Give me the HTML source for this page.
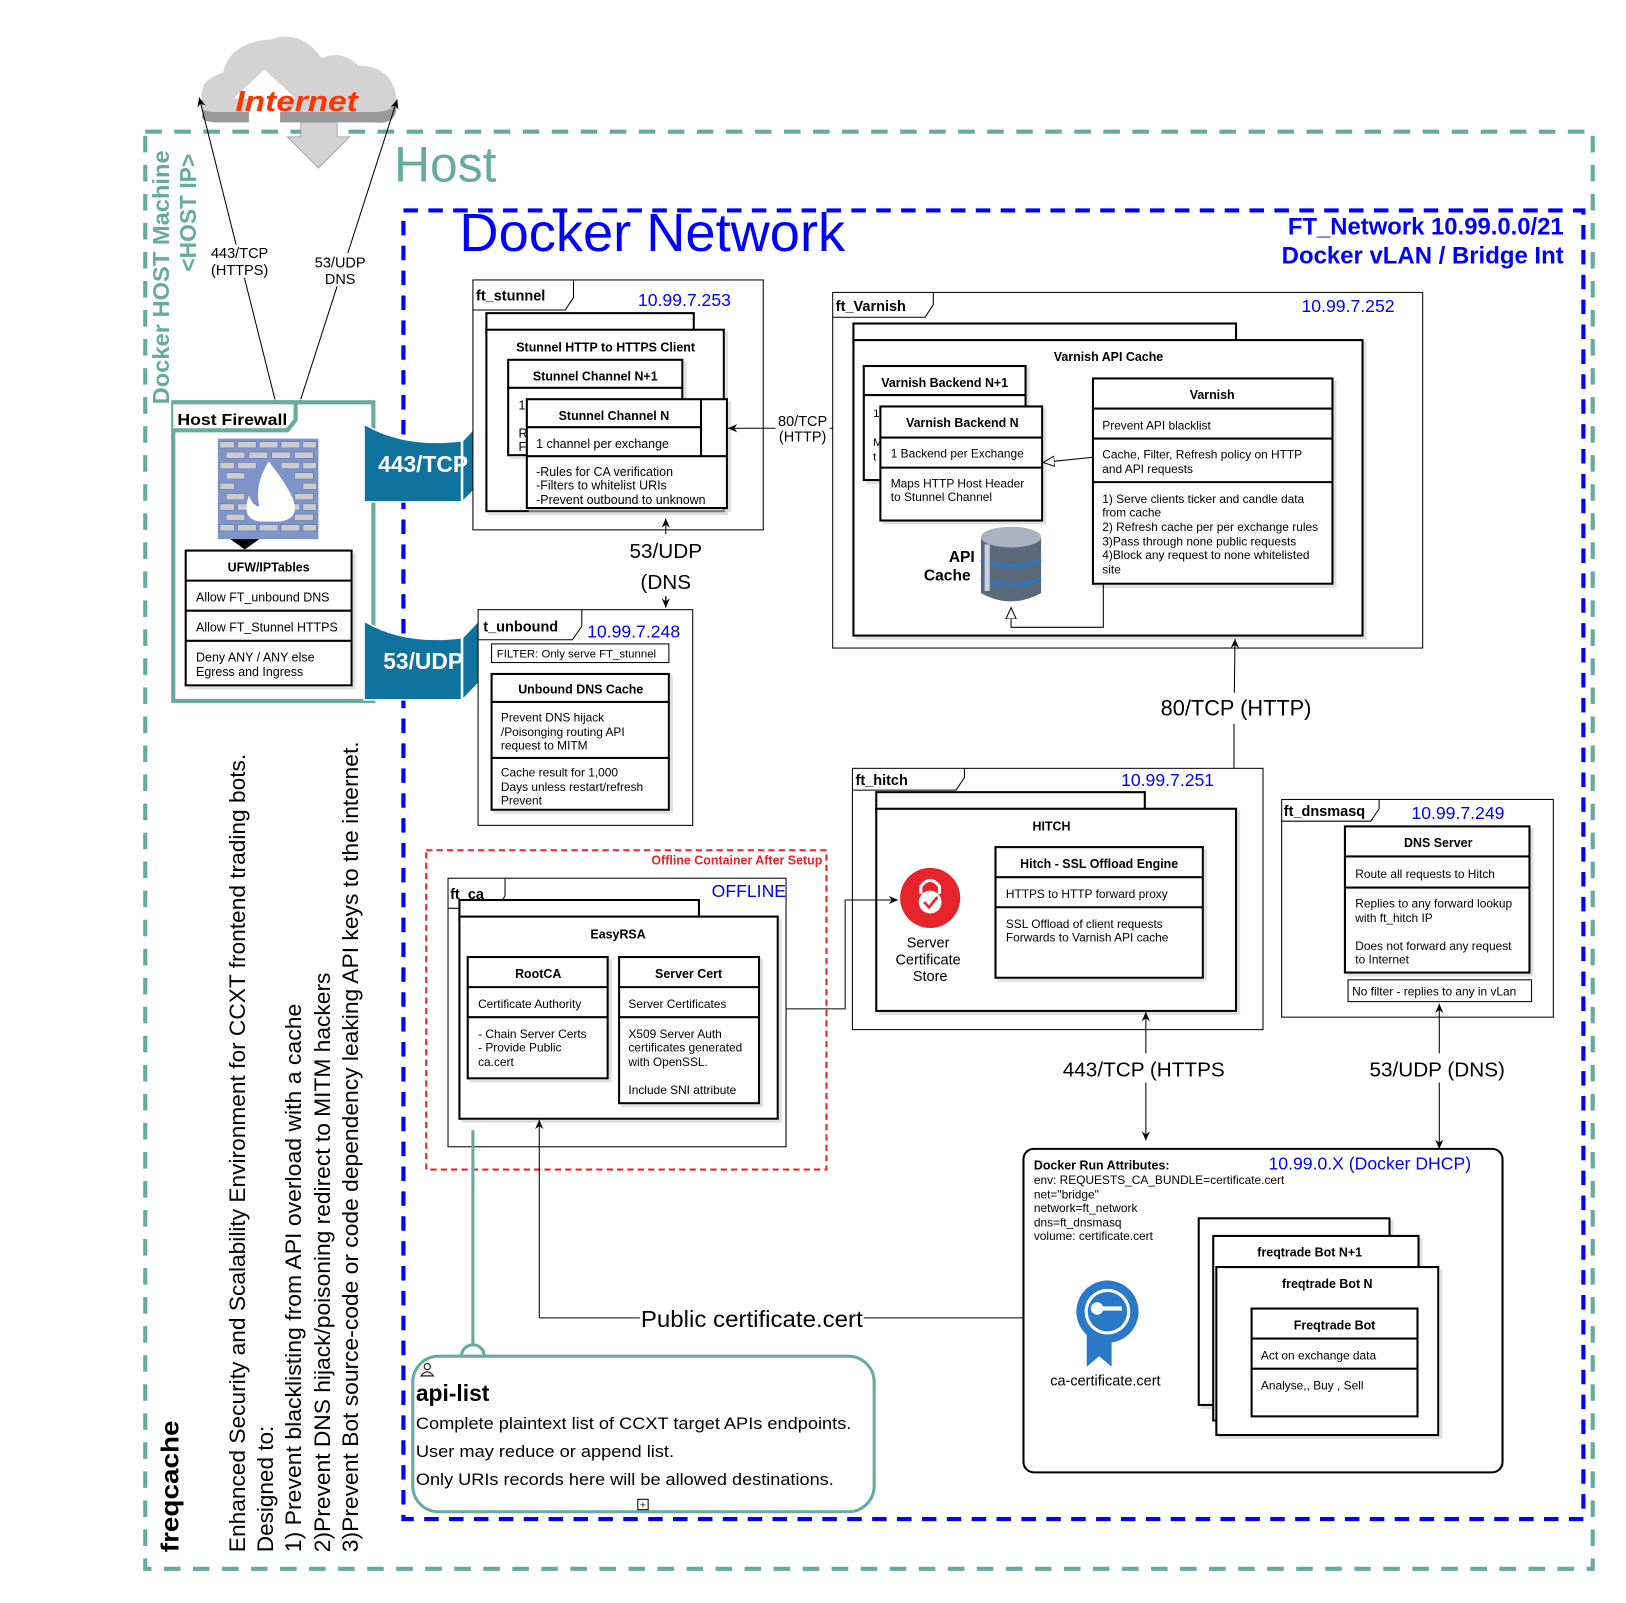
<!DOCTYPE html>
<html><head><meta charset="utf-8"><style>
html,body{margin:0;padding:0;background:#fff;}
svg{display:block;}
text{font-family:"Liberation Sans",sans-serif;}
</style></head><body>
<svg width="1626" height="1603" viewBox="0 0 1568 1546" xmlns="http://www.w3.org/2000/svg">
<defs>
<marker id="ar" markerWidth="10" markerHeight="10" refX="9" refY="5" orient="auto" markerUnits="userSpaceOnUse"><path d="M0,1 L9,5 L0,9 L3,5z" fill="#000"/></marker>
<marker id="ao" markerWidth="12" markerHeight="12" refX="11" refY="6" orient="auto" markerUnits="userSpaceOnUse"><path d="M0,1 L11,6 L0,11z" fill="#fff" stroke="#000"/></marker>
<filter id="sh" x="-5%" y="-5%" width="115%" height="115%"><feOffset dx="3" dy="3" in="SourceAlpha"/><feColorMatrix values="0 0 0 0 0.6 0 0 0 0 0.6 0 0 0 0 0.6 0 0 0 0.6 0"/><feMerge><feMergeNode/><feMergeNode in="SourceGraphic"/></feMerge></filter>
</defs>

<rect x="140" y="127" width="1396" height="1386" fill="none" stroke="#67AB9F" stroke-width="4" stroke-dasharray="16 12"/>
<text x="380" y="175" font-size="48" fill="#67AB9F">Host</text>
<text transform="translate(163,390) rotate(-90)" font-size="22" font-weight="bold" fill="#67AB9F" textLength="245" lengthAdjust="spacingAndGlyphs">Docker HOST Machine</text>
<text transform="translate(189,262) rotate(-90)" font-size="22" font-weight="bold" fill="#67AB9F">&lt;HOST IP&gt;</text>

<g>
<path d="M196,102 Q188,80 215,72 Q222,42 262,40 Q290,30 310,58 Q330,50 345,65 Q378,66 382,95 Q384,115 360,112 L210,112 Q190,112 196,102z" fill="#999" transform="translate(0,6)"/>
<path d="M196,100 Q188,78 215,70 Q222,40 262,38 Q290,28 310,56 Q330,48 345,63 Q378,64 382,93 Q384,108 360,108 L210,108 Q190,108 196,100z" fill="#d3d3d3"/>
<path d="M255,67 L285,95 L270,95 L270,118 L240,118 L240,95 L225,95z" fill="#fff"/>
<path d="M290,118 L325,118 L325,132 L337,132 L307,162 L277,132 L290,132z" fill="#d3d3d3" stroke="#aaa"/>
<text x="286" y="107" font-size="28" font-weight="bold" font-style="italic" fill="#ff3300" text-anchor="middle" textLength="118" lengthAdjust="spacingAndGlyphs">Internet</text>
</g>
<line x1="265" y1="385" x2="192" y2="94" stroke="#000" marker-start="url(#ar)" marker-end="url(#ar)"/>
<line x1="290" y1="385" x2="383" y2="96" stroke="#000" marker-start="url(#ar)" marker-end="url(#ar)"/>
<rect x="200" y="236" width="62" height="32" fill="#fff"/>
<text x="231" y="249" font-size="14" text-anchor="middle">443/TCP</text>
<text x="231" y="265" font-size="14" text-anchor="middle">(HTTPS)</text>
<rect x="300" y="244" width="56" height="32" fill="#fff"/>
<text x="328" y="258" font-size="14" text-anchor="middle">53/UDP</text>
<text x="328" y="274" font-size="14" text-anchor="middle">DNS</text>

<rect x="389" y="203" width="1138" height="1262" fill="none" stroke="#0000ff" stroke-width="4" stroke-dasharray="14 10"/>
<text x="443" y="242" font-size="52" fill="#0000ff" textLength="372" lengthAdjust="spacingAndGlyphs">Docker Network</text>
<text x="1508" y="226" font-size="23" font-weight="bold" fill="#0000ff" text-anchor="end" textLength="266" lengthAdjust="spacingAndGlyphs">FT_Network 10.99.0.0/21</text>
<text x="1508" y="254" font-size="23" font-weight="bold" fill="#0000ff" text-anchor="end" textLength="272" lengthAdjust="spacingAndGlyphs">Docker vLAN / Bridge Int</text>

<rect x="167" y="388" width="193" height="288" fill="#fff" stroke="#67AB9F" stroke-width="4"/>
<path d="M167,388 L285,388 L285,405 L277,415 L167,415" fill="#fff" stroke="#67AB9F" stroke-width="4"/>
<text x="171" y="410" font-size="15" font-weight="bold" textLength="106" lengthAdjust="spacingAndGlyphs">Host Firewall</text>
<g>
<rect x="210" y="423" width="97" height="97" fill="#7f94c8"/>
<g fill="#ccc" stroke="#5a6fa8" stroke-width="0.5">
<rect x="212" y="426" width="14" height="6"/><rect x="229" y="426" width="18" height="6"/><rect x="250" y="426" width="18" height="6"/><rect x="271" y="426" width="18" height="6"/><rect x="292" y="426" width="13" height="6"/>
<rect x="212" y="446" width="14" height="6"/><rect x="229" y="446" width="18" height="6"/><rect x="271" y="446" width="18" height="6"/><rect x="292" y="446" width="13" height="6"/>
<rect x="212" y="466" width="14" height="6"/><rect x="292" y="466" width="13" height="6"/>
<rect x="212" y="486" width="14" height="6"/><rect x="229" y="486" width="18" height="6"/><rect x="271" y="486" width="18" height="6"/><rect x="292" y="486" width="13" height="6"/>
<rect x="212" y="506" width="14" height="6"/><rect x="229" y="506" width="18" height="6"/><rect x="250" y="506" width="18" height="6"/><rect x="271" y="506" width="18" height="6"/><rect x="292" y="506" width="13" height="6"/>
<rect x="218" y="436" width="18" height="6"/><rect x="240" y="436" width="18" height="6"/><rect x="262" y="436" width="18" height="6"/><rect x="284" y="436" width="18" height="6"/>
<rect x="218" y="456" width="18" height="6"/><rect x="284" y="456" width="18" height="6"/>
<rect x="218" y="476" width="18" height="6"/><rect x="284" y="476" width="18" height="6"/>
<rect x="218" y="496" width="18" height="6"/><rect x="284" y="496" width="18" height="6"/>
</g>
<path d="M259,445 Q275,465 282,480 Q290,500 270,503 L250,503 Q232,500 240,478 Q245,490 250,488 Q245,468 259,445z" fill="#fff"/>
<path d="M222,520 L250,520 L236,530z" fill="#000"/>
</g>
<rect x="179" y="531" width="160" height="130" fill="#fff" stroke="#000" stroke-width="2" filter="url(#sh)"/>
<line x1="179" y1="560" x2="339" y2="560" stroke="#000" stroke-width="2"/>
<line x1="179" y1="589" x2="339" y2="589" stroke="#000" stroke-width="2"/>
<line x1="179" y1="618" x2="339" y2="618" stroke="#000" stroke-width="2"/>
<text x="259" y="551" font-size="12" font-weight="bold" text-anchor="middle">UFW/IPTables</text>
<text x="189" y="580" font-size="12">Allow FT_unbound DNS</text>
<text x="189" y="609" font-size="12">Allow FT_Stunnel HTTPS</text>
<text x="189" y="638" font-size="12">Deny ANY / ANY else</text>
<text x="189" y="652" font-size="12">Egress and Ingress</text>

<g>
<path d="M351,409 Q390,432 445,425 L445,484 L351,484z" fill="#10739E" stroke="#fff" stroke-width="1.5"/>
<path d="M446,425 L466,404 L466,464 L446,484z" fill="#10739E" stroke="#fff" stroke-width="1.5"/>
<text x="408" y="455" font-size="22" font-weight="bold" fill="#fff" text-anchor="middle">443/TCP</text>
<path d="M351,599 Q390,622 445,615 L445,675 L351,675z" fill="#10739E" stroke="#fff" stroke-width="1.5"/>
<path d="M446,615 L466,594 L466,654 L446,675z" fill="#10739E" stroke="#fff" stroke-width="1.5"/>
<text x="408" y="645" font-size="22" font-weight="bold" fill="#fff" text-anchor="middle">53/UDP</text>
</g>

<rect x="456" y="270" width="280" height="241" fill="#fff" stroke="#000"/>
<path d="M456,299 L545,299 L553,287 L553,270" fill="none" stroke="#000"/>
<text x="459" y="290" font-size="14" font-weight="bold">ft_stunnel</text>
<text x="660" y="295" font-size="17" fill="#0000ff" text-anchor="middle">10.99.7.253</text>
<rect x="469" y="302" width="200" height="20" fill="#fff" stroke="#000" stroke-width="2"/>
<rect x="469" y="318" width="229" height="175" fill="#fff" stroke="#000" stroke-width="2" filter="url(#sh)"/>
<text x="584" y="339" font-size="12" font-weight="bold" text-anchor="middle">Stunnel HTTP to HTTPS Client</text>
<rect x="490" y="347" width="168" height="92" fill="#fff" stroke="#000" stroke-width="2" filter="url(#sh)"/>
<line x1="490" y1="374" x2="658" y2="374" stroke="#000" stroke-width="2"/>
<text x="574" y="367" font-size="12" font-weight="bold" text-anchor="middle">Stunnel Channel N+1</text>
<text x="500" y="395" font-size="12">1</text>
<text x="500" y="422" font-size="12">R</text>
<text x="500" y="435" font-size="12">F</text>
<rect x="508" y="385" width="193" height="105" fill="#fff" stroke="#000" stroke-width="2" filter="url(#sh)"/>
<line x1="676" y1="385" x2="676" y2="440" stroke="#000" stroke-width="2"/>
<line x1="508" y1="412" x2="676" y2="412" stroke="#000" stroke-width="2"/>
<line x1="508" y1="440" x2="701" y2="440" stroke="#000" stroke-width="2"/>
<text x="592" y="405" font-size="12" font-weight="bold" text-anchor="middle">Stunnel Channel N</text>
<text x="517" y="432" font-size="12">1 channel per exchange</text>
<text x="517" y="459" font-size="12">-Rules for CA verification</text>
<text x="517" y="472" font-size="12">-Filters to whitelist URIs</text>
<text x="517" y="486" font-size="12">-Prevent outbound to unknown</text>

<line x1="850" y1="413" x2="702" y2="413" stroke="#000" marker-end="url(#ar)"/>
<rect x="748" y="398" width="52" height="32" fill="#fff"/>
<text x="774" y="411" font-size="14" text-anchor="middle">80/TCP</text>
<text x="774" y="426" font-size="14" text-anchor="middle">(HTTP)</text>

<line x1="642" y1="586" x2="642" y2="500" stroke="#000" marker-end="url(#ar)"/>
<line x1="642" y1="575" x2="642" y2="586" stroke="#000" marker-end="url(#ar)"/>
<rect x="600" y="515" width="84" height="60" fill="#fff"/>
<text x="642" y="538" font-size="20" text-anchor="middle">53/UDP</text>
<text x="642" y="568" font-size="20" text-anchor="middle">(DNS</text>

<rect x="461" y="588" width="207" height="208" fill="#fff" stroke="#000"/>
<path d="M461,617 L552,617 L561,604 L561,588" fill="none" stroke="#000"/>
<text x="466" y="609" font-size="14" font-weight="bold">t_unbound</text>
<text x="611" y="615" font-size="17" fill="#0000ff" text-anchor="middle">10.99.7.248</text>
<rect x="474" y="621" width="171" height="18" fill="#fff" stroke="#000"/>
<text x="479" y="634" font-size="11">FILTER: Only serve FT_stunnel</text>
<rect x="474" y="650" width="171" height="131" fill="#fff" stroke="#000" stroke-width="2" filter="url(#sh)"/>
<line x1="474" y1="677" x2="645" y2="677" stroke="#000" stroke-width="2"/>
<line x1="474" y1="731" x2="645" y2="731" stroke="#000" stroke-width="2"/>
<text x="560" y="669" font-size="12" font-weight="bold" text-anchor="middle">Unbound DNS Cache</text>
<text x="483" y="696" font-size="11.5">Prevent DNS hijack</text>
<text x="483" y="710" font-size="11.5">/Poisonging routing API</text>
<text x="483" y="723" font-size="11.5">request to MITM</text>
<text x="483" y="749" font-size="11.5">Cache result for 1,000</text>
<text x="483" y="763" font-size="11.5">Days unless restart/refresh</text>
<text x="483" y="776" font-size="11.5">Prevent</text>

<rect x="803" y="282" width="569" height="343" fill="#fff" stroke="#000"/>
<path d="M803,306 L892,306 L900,294 L900,282" fill="none" stroke="#000"/>
<text x="806" y="300" font-size="14" font-weight="bold">ft_Varnish</text>
<text x="1300" y="301" font-size="17" fill="#0000ff" text-anchor="middle">10.99.7.252</text>
<rect x="823" y="312" width="369" height="20" fill="#fff" stroke="#000" stroke-width="2"/>
<rect x="823" y="328" width="491" height="285" fill="#fff" stroke="#000" stroke-width="2" filter="url(#sh)"/>
<text x="1069" y="348" font-size="12" font-weight="bold" text-anchor="middle">Varnish API Cache</text>
<rect x="833" y="353" width="156" height="110" fill="#fff" stroke="#000" stroke-width="2" filter="url(#sh)"/>
<line x1="833" y1="381" x2="989" y2="381" stroke="#000" stroke-width="2"/>
<text x="911" y="373" font-size="12" font-weight="bold" text-anchor="middle">Varnish Backend N+1</text>
<text x="842" y="402" font-size="11">1</text><text x="842" y="430" font-size="11">M</text><text x="842" y="444" font-size="11">t</text>
<rect x="849" y="392" width="156" height="110" fill="#fff" stroke="#000" stroke-width="2" filter="url(#sh)"/>
<line x1="849" y1="422" x2="1005" y2="422" stroke="#000" stroke-width="2"/>
<line x1="849" y1="451" x2="1005" y2="451" stroke="#000" stroke-width="2"/>
<text x="928" y="412" font-size="12" font-weight="bold" text-anchor="middle">Varnish Backend N</text>
<text x="859" y="441" font-size="11.5">1 Backend per Exchange</text>
<text x="859" y="470" font-size="11.5">Maps HTTP Host Header</text>
<text x="859" y="483" font-size="11.5">to Stunnel Channel</text>
<rect x="1054" y="365" width="231" height="198" fill="#fff" stroke="#000" stroke-width="2" filter="url(#sh)"/>
<line x1="1054" y1="394" x2="1285" y2="394" stroke="#000" stroke-width="2"/>
<line x1="1054" y1="423" x2="1285" y2="423" stroke="#000" stroke-width="2"/>
<line x1="1054" y1="465" x2="1285" y2="465" stroke="#000" stroke-width="2"/>
<text x="1169" y="385" font-size="12" font-weight="bold" text-anchor="middle">Varnish</text>
<text x="1063" y="414" font-size="11.5">Prevent API blacklist</text>
<text x="1063" y="442" font-size="11.5">Cache, Filter, Refresh policy on  HTTP</text>
<text x="1063" y="456" font-size="11.5">and API requests</text>
<text x="1063" y="485" font-size="11.5">1) Serve clients ticker and candle data</text>
<text x="1063" y="498" font-size="11.5">from cache</text>
<text x="1063" y="512" font-size="11.5">2) Refresh cache per per exchange rules</text>
<text x="1063" y="526" font-size="11.5">3)Pass through none public requests</text>
<text x="1063" y="539" font-size="11.5">4)Block any request to none whitelisted</text>
<text x="1063" y="553" font-size="11.5">site</text>
<line x1="1054" y1="441" x2="1006" y2="446" stroke="#000" marker-end="url(#ao)"/>
<polyline points="1064,563 1064,605 975,605 975,586" fill="none" stroke="#000" marker-end="url(#ao)"/>
<g>
<path d="M946,518 L946,572 Q975,588 1004,572 L1004,518z" fill="#5a6a7a"/>
<ellipse cx="975" cy="518" rx="29" ry="10" fill="#aab4be"/>
<path d="M946,540 Q975,552 1004,540" fill="none" stroke="#2a78c8" stroke-width="3"/>
<path d="M946,558 Q975,570 1004,558" fill="none" stroke="#2a78c8" stroke-width="3"/>
<path d="M952,525 L952,570" stroke="#c8d0d8" stroke-width="5"/>
</g>
<text x="940" y="542" font-size="15" font-weight="bold" text-anchor="end">API</text>
<text x="936" y="560" font-size="15" font-weight="bold" text-anchor="end">Cache</text>

<line x1="1190" y1="700" x2="1191" y2="616" stroke="#000" marker-end="url(#ar)"/>
<line x1="1190" y1="690" x2="1190" y2="781" stroke="#000" marker-end="url(#ar)"/>
<rect x="1115" y="668" width="155" height="30" fill="#fff"/>
<text x="1192" y="690" font-size="21" text-anchor="middle">80/TCP (HTTP)</text>

<rect x="822" y="741" width="396" height="252" fill="#fff" stroke="#000"/>
<path d="M822,762 L922,762 L930,750 L930,741" fill="none" stroke="#000"/>
<text x="825" y="757" font-size="14" font-weight="bold">ft_hitch</text>
<text x="1126" y="758" font-size="17" fill="#0000ff" text-anchor="middle">10.99.7.251</text>
<rect x="845" y="764" width="259" height="20" fill="#fff" stroke="#000" stroke-width="2"/>
<rect x="845" y="780" width="347" height="195" fill="#fff" stroke="#000" stroke-width="2" filter="url(#sh)"/>
<text x="1014" y="801" font-size="12" font-weight="bold" text-anchor="middle">HITCH</text>
<rect x="960" y="817" width="200" height="126" fill="#fff" stroke="#000" stroke-width="2" filter="url(#sh)"/>
<line x1="960" y1="846" x2="1160" y2="846" stroke="#000" stroke-width="2"/>
<line x1="960" y1="875" x2="1160" y2="875" stroke="#000" stroke-width="2"/>
<text x="1060" y="837" font-size="12" font-weight="bold" text-anchor="middle">Hitch  - SSL Offload Engine</text>
<text x="970" y="866" font-size="11.5">HTTPS to HTTP forward proxy</text>
<text x="970" y="895" font-size="11.5">SSL Offload of client requests</text>
<text x="970" y="908" font-size="11.5">Forwards to Varnish API cache</text>
<circle cx="897" cy="866" r="29" fill="#e5252a"/>
<path d="M888,862 L888,855 Q897,843 906,855 L906,862" fill="none" stroke="#fff" stroke-width="3"/>
<circle cx="897" cy="870" r="11" fill="#fff"/>
<path d="M891,870 L896,875 L904,865" fill="none" stroke="#e5252a" stroke-width="2.5"/>
<text x="895" y="914" font-size="14" text-anchor="middle">Server</text>
<text x="895" y="930" font-size="14" text-anchor="middle">Certificate</text>
<text x="897" y="946" font-size="14" text-anchor="middle">Store</text>
<polyline points="752,973 815,973 815,868 866,868" fill="none" stroke="#000" marker-end="url(#ar)"/>

<rect x="1236" y="771" width="262" height="210" fill="#fff" stroke="#000"/>
<path d="M1236,792 L1322,792 L1330,780 L1330,771" fill="none" stroke="#000"/>
<text x="1238" y="787" font-size="14" font-weight="bold">ft_dnsmasq</text>
<text x="1406" y="790" font-size="17" fill="#0000ff" text-anchor="middle">10.99.7.249</text>
<rect x="1297" y="797" width="178" height="141" fill="#fff" stroke="#000" stroke-width="2" filter="url(#sh)"/>
<line x1="1297" y1="826" x2="1475" y2="826" stroke="#000" stroke-width="2"/>
<line x1="1297" y1="856" x2="1475" y2="856" stroke="#000" stroke-width="2"/>
<text x="1387" y="817" font-size="12" font-weight="bold" text-anchor="middle">DNS Server</text>
<text x="1307" y="847" font-size="11.5">Route all requests to Hitch</text>
<text x="1307" y="875" font-size="11.5">Replies to any forward lookup</text>
<text x="1307" y="889" font-size="11.5">with ft_hitch IP</text>
<text x="1307" y="916" font-size="11.5">Does not forward any request</text>
<text x="1307" y="929" font-size="11.5">to Internet</text>
<rect x="1300" y="945" width="177" height="21" fill="#fff" stroke="#000"/>
<text x="1304" y="960" font-size="11.5">No filter - replies to any in vLan</text>

<line x1="1105" y1="1040" x2="1105" y2="976" stroke="#000" marker-end="url(#ar)"/>
<line x1="1105" y1="1030" x2="1105" y2="1100" stroke="#000" marker-end="url(#ar)"/>
<rect x="1020" y="1016" width="168" height="28" fill="#fff"/>
<text x="1103" y="1038" font-size="20" text-anchor="middle">443/TCP (HTTPS</text>
<line x1="1388" y1="1040" x2="1388" y2="968" stroke="#000" marker-end="url(#ar)"/>
<line x1="1388" y1="1030" x2="1388" y2="1108" stroke="#000" marker-end="url(#ar)"/>
<rect x="1312" y="1016" width="150" height="28" fill="#fff"/>
<text x="1386" y="1038" font-size="20" text-anchor="middle">53/UDP (DNS)</text>

<rect x="411" y="820" width="386" height="308" fill="none" stroke="#e5252a" stroke-width="2" stroke-dasharray="6 4"/>
<text x="793" y="834" font-size="12" font-weight="bold" fill="#e5252a" text-anchor="end">Offline Container After Setup</text>
<rect x="432" y="847" width="326" height="259" fill="#fff" stroke="#000"/>
<path d="M432,876 L479,876 L487,864 L487,847" fill="none" stroke="#000"/>
<text x="434" y="867" font-size="14" font-weight="bold">ft_ca</text>
<text x="758" y="865" font-size="17" fill="#0000ff" text-anchor="end">OFFLINE</text>
<rect x="443" y="868" width="231" height="20" fill="#fff" stroke="#000" stroke-width="2"/>
<rect x="443" y="884" width="307" height="195" fill="#fff" stroke="#000" stroke-width="2" filter="url(#sh)"/>
<text x="596" y="905" font-size="12" font-weight="bold" text-anchor="middle">EasyRSA</text>
<rect x="451" y="923" width="135" height="117" fill="#fff" stroke="#000" stroke-width="2" filter="url(#sh)"/>
<line x1="451" y1="952" x2="586" y2="952" stroke="#000" stroke-width="2"/>
<line x1="451" y1="981" x2="586" y2="981" stroke="#000" stroke-width="2"/>
<text x="519" y="943" font-size="12" font-weight="bold" text-anchor="middle">RootCA</text>
<text x="461" y="972" font-size="11.5">Certificate Authority</text>
<text x="461" y="1001" font-size="11.5">- Chain Server Certs</text>
<text x="461" y="1014" font-size="11.5">- Provide Public</text>
<text x="461" y="1028" font-size="11.5">ca.cert</text>
<rect x="597" y="923" width="135" height="141" fill="#fff" stroke="#000" stroke-width="2" filter="url(#sh)"/>
<line x1="597" y1="952" x2="732" y2="952" stroke="#000" stroke-width="2"/>
<line x1="597" y1="981" x2="732" y2="981" stroke="#000" stroke-width="2"/>
<text x="664" y="943" font-size="12" font-weight="bold" text-anchor="middle">Server Cert</text>
<text x="606" y="972" font-size="11.5">Server Certificates</text>
<text x="606" y="1001" font-size="11.5">X509 Server Auth</text>
<text x="606" y="1014" font-size="11.5">certificates generated</text>
<text x="606" y="1028" font-size="11.5">with OpenSSL.</text>
<text x="606" y="1055" font-size="11.5">Include SNI attribute</text>

<line x1="520" y1="1271" x2="520" y2="1080" stroke="#000" marker-end="url(#ar)"/>
<line x1="520" y1="1271" x2="1035" y2="1271" stroke="#000"/>
<line x1="1025" y1="1265" x2="1025" y2="1277" stroke="#000"/><line x1="1029" y1="1265" x2="1029" y2="1277" stroke="#000"/>
<rect x="617" y="1258" width="216" height="28" fill="#fff"/>
<text x="725" y="1280" font-size="22" text-anchor="middle" textLength="214" lengthAdjust="spacingAndGlyphs">Public certificate.cert</text>

<line x1="456" y1="1090" x2="456" y2="1298" stroke="#67AB9F" stroke-width="3"/>
<path d="M445,1308 A11,11 0 0 1 467,1308" fill="none" stroke="#67AB9F" stroke-width="3"/>
<rect x="398" y="1308" width="445" height="150" rx="25" fill="#fff" stroke="#67AB9F" stroke-width="3"/>
<circle cx="412" cy="1318" r="3" fill="none" stroke="#000"/>
<path d="M406,1327 Q412,1319 418,1327z" fill="none" stroke="#000"/>
<text x="401" y="1351" font-size="22" font-weight="bold">api-list</text>
<text x="401" y="1378" font-size="16" textLength="420" lengthAdjust="spacingAndGlyphs">Complete plaintext list of CCXT target APIs endpoints.</text>
<text x="401" y="1405" font-size="16" textLength="249" lengthAdjust="spacingAndGlyphs">User may reduce or append list.</text>
<text x="401" y="1432" font-size="16" textLength="403" lengthAdjust="spacingAndGlyphs">Only URIs records here will be allowed destinations.</text>
<rect x="615" y="1446" width="10" height="10" fill="#fff" stroke="#000"/>
<text x="620" y="1455" font-size="10" text-anchor="middle">+</text>

<rect x="987" y="1108" width="462" height="312" rx="10" fill="#fff" stroke="#000" stroke-width="2"/>
<text x="997" y="1128" font-size="12" font-weight="bold">Docker Run Attributes:</text>
<text x="997" y="1142" font-size="11.5">env: REQUESTS_CA_BUNDLE=certificate.cert</text>
<text x="997" y="1156" font-size="11.5">net="bridge"</text>
<text x="997" y="1169" font-size="11.5">network=ft_network</text>
<text x="997" y="1183" font-size="11.5">dns=ft_dnsmasq</text>
<text x="997" y="1196" font-size="11.5">volume: certificate.cert</text>
<text x="1321" y="1128" font-size="17" fill="#0000ff" text-anchor="middle">10.99.0.X (Docker DHCP)</text>
<rect x="1156" y="1175" width="184" height="180" fill="#fff" stroke="#000" stroke-width="2" filter="url(#sh)"/>
<rect x="1170" y="1192" width="198" height="178" fill="#fff" stroke="#000" stroke-width="2" filter="url(#sh)"/>
<text x="1263" y="1212" font-size="12" font-weight="bold" text-anchor="middle">freqtrade Bot N+1</text>
<rect x="1173" y="1222" width="214" height="162" fill="#fff" stroke="#000" stroke-width="2" filter="url(#sh)"/>
<text x="1280" y="1242" font-size="12" font-weight="bold" text-anchor="middle">freqtrade Bot N</text>
<rect x="1207" y="1262" width="160" height="104" fill="#fff" stroke="#000" stroke-width="2"/>
<line x1="1207" y1="1291" x2="1367" y2="1291" stroke="#000" stroke-width="2"/>
<line x1="1207" y1="1320" x2="1367" y2="1320" stroke="#000" stroke-width="2"/>
<text x="1287" y="1282" font-size="12" font-weight="bold" text-anchor="middle">Freqtrade Bot</text>
<text x="1216" y="1311" font-size="11.5">Act on exchange data</text>
<text x="1216" y="1340" font-size="11.5">Analyse,, Buy , Sell</text>
<g>
<path d="M1048,1285 L1048,1318 L1060,1308 L1072,1318 L1072,1285z" fill="#2a78c8"/>
<circle cx="1068" cy="1265" r="30" fill="#2a78c8"/>
<circle cx="1068" cy="1265" r="22" fill="#fff"/>
<circle cx="1068" cy="1265" r="19" fill="#2a78c8"/>
<circle cx="1058" cy="1262" r="6" fill="#fff"/>
<rect x="1062" y="1260" width="20" height="4" fill="#fff"/>
</g>
<text x="1066" y="1336" font-size="14" text-anchor="middle">ca-certificate.cert</text>

<text transform="translate(172,1497) rotate(-90)" font-size="24" font-weight="bold" textLength="127" lengthAdjust="spacingAndGlyphs">freqcache</text>
<text transform="translate(236,1497) rotate(-90)" font-size="21" textLength="770" lengthAdjust="spacingAndGlyphs">Enhanced Security and Scalability Environment for CCXT frontend trading bots.</text>
<text transform="translate(263,1497) rotate(-90)" font-size="21" textLength="122" lengthAdjust="spacingAndGlyphs">Designed to:</text>
<text transform="translate(290,1497) rotate(-90)" font-size="21" textLength="529" lengthAdjust="spacingAndGlyphs">1) Prevent blacklisting from API overload with a cache</text>
<text transform="translate(318,1497) rotate(-90)" font-size="21" textLength="559" lengthAdjust="spacingAndGlyphs">2)Prevent DNS hijack/poisoning redirect to MITM hackers</text>
<text transform="translate(345,1497) rotate(-90)" font-size="21" textLength="782" lengthAdjust="spacingAndGlyphs">3)Prevent Bot source-code or code dependency leaking API keys to the internet.</text>
</svg>
</body></html>
